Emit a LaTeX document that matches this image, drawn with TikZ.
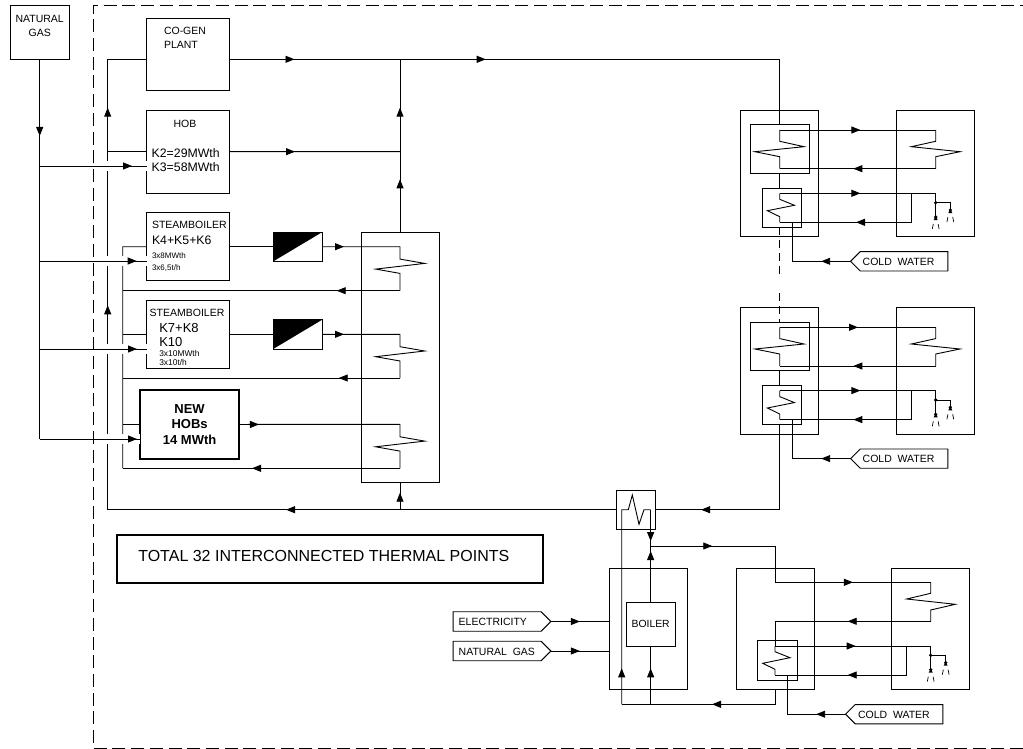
\documentclass[tikz,border=0pt]{standalone}
\usepackage{fontspec}
\setmainfont{Liberation Sans}
\usetikzlibrary{arrows.meta, positioning, calc, shapes.symbols, decorations.markings}

\begin{document}
\begin{tikzpicture}[
    x=1pt, y=-1pt,
    every node/.style={font=\fontsize{10.5}{14}\selectfont},
    box/.style={rectangle, draw, line width=0.9pt, inner sep=0pt, outer sep=0pt},
    lbl/.style={inner sep=0pt, outer sep=0pt, align=left},
    tiny/.style={lbl, font=\fontsize{8}{12}\selectfont},
    med/.style={lbl, font=\fontsize{12.3}{14.6}\selectfont},
    tagw/.style={signal, signal to=west, draw, line width=0.9pt, inner sep=0pt, outer sep=0pt,
                 minimum width=97.3pt, minimum height=19.3pt},
    tage/.style={signal, signal to=east, draw, line width=0.9pt, inner sep=0pt, outer sep=0pt,
                 minimum width=97.7pt, minimum height=19.5pt},
    line/.style={line width=0.9pt},
    flow/.style={postaction={decorate, decoration={markings,
                 mark=at position #1 with {\arrow{Triangle[length=9pt, width=7pt]}}}}},
    gas/.style={line, preaction={draw=white, line width=10pt}},
    pics/nozzle/.style={code={
        \fill (0,0) circle (1.8);
        \fill (-2,3) -- (2,3) -- (0,-1) -- cycle;
        \draw[line width=0.7pt] (-2.4,7) -- (-3.4,12);
        \draw[line width=0.7pt] (2.4,7) -- (3.4,12);
    }}
]
    \useasboundingbox (0,0) rectangle (1023,749);

    % left column
    \node[box, minimum width=82.8pt, minimum height=72.7pt] (cogen) at (188.1,54.35) {};
    \node[box, minimum width=82.8pt, minimum height=82.7pt, below=19.6pt of cogen] (hob) {};
    \node[box, minimum width=82.8pt, minimum height=68pt, below=19.7pt of hob] (steama) {};
    \node[box, minimum width=82.8pt, minimum height=68pt, below=19.6pt of steama] (steamb) {};
    \node[box, line width=2pt, minimum width=99.3pt, minimum height=68.3pt, below=22pt of steamb, xshift=1.5pt,
          align=center, font=\bfseries\fontsize{13}{15.6}\selectfont] (newhob) {NEW\\HOBs\\14 MWth};
    \node[box, minimum width=49pt, minimum height=29.3pt, right=43.8pt of steama] (conva) {};
    \node[box, minimum width=49pt, minimum height=29.3pt, right=43.8pt of steamb] (convb) {};
    \fill (conva.north west) -- (conva.north east) -- (conva.south west) -- cycle;
    \fill (convb.north west) -- (convb.north east) -- (convb.south west) -- cycle;
    \node[box, minimum width=78pt, minimum height=250.7pt] (collector) at (400,357.35) {};
    \node[box, minimum width=58.5pt, minimum height=53.3pt] (ngbox) at (39.7,32.35) {};
    \node[box, line width=2pt, minimum width=426.3pt, minimum height=48.3pt] (total) at (330.15,558.85) {};

    \node[lbl, align=center] (nglbl) at (39.7,26.2) {NATURAL\\GAS};
    \node[lbl, anchor=west] (cogenlbl) at (164,38) {CO-GEN\\PLANT};
    \node[lbl] (hoblbl) at (185,123.7) {HOB};
    \node[med, anchor=west] (hobk) at (151.7,160) {K2=29MWth\\K3=58MWth};
    \node[lbl, anchor=west] (steamalbl) at (152,225) {STEAMBOILER};
    \node[med, anchor=west] (steamak) at (152,240.7) {K4+K5+K6};
    \node[tiny, anchor=west] (steamacap) at (152,262) {3x8MWth\\3x6,5t/h};
    \node[lbl, anchor=west] (steamblbl) at (149.7,313.3) {STEAMBOILER};
    \node[lbl, anchor=west, font=\fontsize{13}{14.4}\selectfont] (steambk) at (159.3,334.9) {K7+K8\\K10};
    \node[tiny, anchor=west, font=\fontsize{8.4}{9.7}\selectfont] (steambcap) at (159.3,358) {3x10MWth\\3x10t/h};
    \node[lbl, anchor=west, font=\fontsize{16}{18}\selectfont] (totallbl) at (138.3,555.7) {TOTAL 32 INTERCONNECTED THERMAL POINTS};

    % natural gas feed
    \coordinate (gasa) at (39.7,166);
    \coordinate (gasb) at (39.7,261);
    \coordinate (gasc) at (39.7,349);
    \coordinate (gasd) at (39.7,439);

    % return header and boiler return
    \coordinate (rettop) at (107.7,59.3);
    \coordinate (retbot) at (107.7,509.7);
    \coordinate (rethob) at (107.7,151.7);
    \coordinate (colbot) at (400,509.7);
    \coordinate (hdrtop) at (122.7,246.7);
    \coordinate (hdrbot) at (122.7,468.3);
    \coordinate (supjoin) at (400,59.3);
    \coordinate (hobjoin) at (400,151.7);

    \draw[line, flow=204.4pt, flow=402pt] (retbot) -- (rettop) -- (cogen.west |- rettop);
    \draw[line] (rethob) -- (hob.west |- rethob);
    \draw[line] (hdrbot) -- (hdrtop) -- (steama.west);
    \draw[line] (hdrtop |- steamb.west) -- (steamb.west);
    \draw[line] (hdrtop |- newhob.west) -- (newhob.west);

    \draw[gas, flow=92.3pt] (gasa) -- (gasa -| hob.west);
    \draw[gas, flow=97pt] (gasb) -- (gasb -| steama.west);
    \draw[gas, flow=97.3pt] (gasc) -- (gasc -| steamb.west);
    \draw[gas, flow=97.3pt] (gasd) -- (gasd -| newhob.west);
    \draw[line, flow=77pt] (ngbox.south) -- (gasd);

    % outlets to collector
    \draw[line] (steama.east) -- (conva.west);
    \draw[line] (steamb.east) -- (convb.west);
    \draw[line, flow=65.5pt] (hob.east) -- (hobjoin);
    \draw[line, flow=52.7pt, flow=124.3pt] (collector.north) -- (supjoin);
    \draw[line, flow=17pt] (colbot) -- (collector.south);

    % collector coils
    \coordinate (cola) at (400,246.7);
    \coordinate (colb) at (400,334.3);
    \coordinate (colc) at (400,424.4);
    \coordinate (colao) at (400,290.7);
    \coordinate (colbo) at (400,378);
    \coordinate (colco) at (400,468.3);
    \draw[line, flow=21.7pt] (conva.east) -- (cola);
    \draw[line, flow=21.7pt] (convb.east) -- (colb);
    \draw[line, flow=19.7pt] (newhob.east) -- (colc);
    \draw[line] (cola) -- ++(0,12.4) -- ++(24.7,4.3) -- ++(-49,5.7) -- ++(24.3,4.3) -- (colao);
    \draw[line] (colb) -- ++(0,12.4) -- ++(24.7,4.3) -- ++(-49,5.7) -- ++(24.3,4.3) -- (colbo);
    \draw[line] (colc) -- ++(0,12.4) -- ++(24.7,4.3) -- ++(-49,5.7) -- ++(24.3,4.3) -- (colco);
    \draw[line, flow=63.3pt] (colao) -- (colao -| hdrtop);
    \draw[line, flow=61.3pt] (colbo) -- (colbo -| hdrtop);
    \draw[line, flow=148pt] (colco) -- (hdrbot);

    % thermal point 1
    \node[box, minimum width=78pt, minimum height=126.4pt] (tanka) at (779.7,173.5) {};
    \node[box, minimum width=78pt, minimum height=126.4pt, right=78pt of tanka] (storea) {};
    \node[box, minimum width=58.7pt, minimum height=48.6pt, below=14.4pt of tanka.north] (hxaa) {};
    \node[box, minimum width=39.4pt, minimum height=39.3pt, below=14.7pt of hxaa, xshift=2.3pt] (hxba) {};
    \node[tagw] (colda) at (904.05,261.3) {};
    \node[lbl, anchor=west] (coldalbl) at (862.7,261.5) {COLD\ \ WATER};
    \coordinate (hota) at (779.7,130);
    \coordinate (hotao) at (779.7,168.7);
    \coordinate (rada) at (935.7,130);
    \coordinate (radao) at (935.7,168.7);
    \coordinate (dhwa) at (779.7,193.3);
    \coordinate (dhwao) at (779.7,222.3);
    \coordinate (supa) at (935.7,193.3);
    \coordinate (bypa) at (911.3,193.3);
    \coordinate (teea) at (935.7,202.7);
    \coordinate (noza) at (935.7,217);
    \coordinate (nozb) at (950.3,210);
    \coordinate (colja) at (792,222.3);
    \draw[line, flow=65pt, flow=256.2pt] (cogen.east |- rettop) -- (hxaa.north |- rettop) -- (hxaa.north);
    \draw[line] (hxaa.south) -- (hxba.north -| hxaa.south);
    \draw[line, flow=80.7pt] (hota) -- (rada);
    \draw[line] (hota) -- ++(0,11.3) -- ++(24.3,5.4) -- ++(-49,5) -- ++(24.7,5) -- (hotao);
    \draw[line] (rada) -- ++(0,11.3) -- ++(-24.4,5.4) -- ++(48.7,5) -- ++(-24.3,5) -- (radao);
    \draw[line, flow=82.4pt] (radao) -- (hotao);
    \draw[line, flow=80.7pt] (dhwa) -- (supa);
    \draw[line] (dhwa) -- ++(0,6) -- ++(14.7,6) -- ++(-27,5.4) -- ++(12.3,6) -- (dhwao);
    \draw[line, flow=84.3pt] (bypa) -- (bypa |- dhwao) -- (dhwao);
    \draw[line] (supa) -- (noza);
    \draw[line] (teea) -| (nozb);
    \fill (teea) circle (1.8);
    \pic at (noza) {nozzle};
    \pic at (nozb) {nozzle};
    \draw[line, flow=29.4pt] (colda.west) -- (colja |- colda.west) -- (colja);

    % thermal point 2
    \node[box, minimum width=78pt, minimum height=126.4pt] (tankb) at (779.7,370.8) {};
    \node[box, minimum width=78pt, minimum height=126.4pt, right=78pt of tankb] (storeb) {};
    \node[box, minimum width=58.7pt, minimum height=48.6pt, below=14.4pt of tankb.north] (hxab) {};
    \node[box, minimum width=39.4pt, minimum height=39.3pt, below=14.7pt of hxab, xshift=2.3pt] (hxbb) {};
    \node[tagw] (coldb) at (904.05,458.6) {};
    \node[lbl, anchor=west] (coldblbl) at (862.7,458.8) {COLD\ \ WATER};
    \coordinate (hotb) at (779.7,327.3);
    \coordinate (hotbo) at (779.7,366);
    \coordinate (radb) at (935.7,327.3);
    \coordinate (radbo) at (935.7,366);
    \coordinate (dhwb) at (779.7,390.6);
    \coordinate (dhwbo) at (779.7,419.6);
    \coordinate (supb) at (935.7,390.6);
    \coordinate (bypb) at (911.3,390.6);
    \coordinate (teeb) at (935.7,400);
    \coordinate (nozc) at (935.7,414.3);
    \coordinate (nozd) at (950.3,407.3);
    \coordinate (coljb) at (792,419.6);
    \coordinate (dashu) at (779.7,275);
    \coordinate (dashl) at (779.7,293);
    \coordinate (retb) at (779.7,509.7);
    \draw[line, dash pattern=on 8pt off 5pt] (hxba.south -| hxaa.south) -- (dashu);
    \draw[line, dash pattern=on 8pt off 5pt] (dashl) -- (hxab.north);
    \draw[line] (hxab.south) -- (hxbb.north -| hxab.south);
    \draw[line, flow=78.3pt] (hotb) -- (radb);
    \draw[line] (hotb) -- ++(0,11.3) -- ++(24.3,5.4) -- ++(-49,5) -- ++(24.7,5) -- (hotbo);
    \draw[line] (radb) -- ++(0,11.3) -- ++(-24.4,5.4) -- ++(48.7,5) -- ++(-24.3,5) -- (radbo);
    \draw[line, flow=82.4pt] (radbo) -- (hotbo);
    \draw[line, flow=80.7pt] (dhwb) -- (supb);
    \draw[line] (dhwb) -- ++(0,6) -- ++(14.7,6) -- ++(-27,5.4) -- ++(12.3,6) -- (dhwbo);
    \draw[line, flow=87pt] (bypb) -- (bypb |- dhwbo) -- (dhwbo);
    \draw[line] (supb) -- (nozc);
    \draw[line] (teeb) -| (nozd);
    \fill (teeb) circle (1.8);
    \pic at (nozc) {nozzle};
    \pic at (nozd) {nozzle};
    \draw[line, flow=29.4pt] (coldb.west) -- (coljb |- coldb.west) -- (coljb);

    % peak heat exchanger and boiler
    \node[box, minimum width=39pt, minimum height=39.3pt] (hxpeak) at (636.2,509.65) {};
    \node[box, minimum width=78pt, minimum height=121.4pt] (boilerbox) at (648.3,629) {};
    \node[box, minimum width=49.3pt, minimum height=44pt, font=\fontsize{10.4}{12}\selectfont] (boiler) at (650.65,624) {BOILER};
    \node[tage] (elec) at (497.15,621.5) {};
    \node[lbl, anchor=west] (eleclbl) at (458.7,622) {ELECTRICITY};
    \node[tage, below=10pt of elec] (ngin) {};
    \node[lbl, anchor=west] (nginlbl) at (458.7,651.5) {NATURAL\ \ GAS};
    \coordinate (pkl) at (621.7,704.3);
    \coordinate (pkr) at (650.65,509.7);
    \coordinate (supt) at (650.65,546);
    \coordinate (bot) at (650.65,704.3);
    \coordinate (thcold) at (775,704.3);
    \coordinate (thsup) at (775,546);
    \draw[line, flow=330.7pt] (hxpeak.west |- retbot) -- (retbot);
    \draw[line, flow=163.7pt] (hxbb.south -| hxab.south) -- (retb) -- (hxpeak.east |- retb);
    \draw[line, flow=36pt] (pkl) -- (pkl |- pkr) -- ++(6.6,0) -- ++(4,-14.7) -- ++(6.7,29.3) -- ++(5,-14.6) -- (pkr);
    \draw[line, flow=31.4pt] (pkr) -- (supt);
    \draw[line, flow=51pt] (boiler.north) -- (supt);
    \draw[line, flow=36pt] (bot) -- (boiler.south);
    \draw[line, flow=29pt] (elec.east) -- (elec.east -| boilerbox.west);
    \draw[line, flow=29pt] (ngin.east) -- (ngin.east -| boilerbox.west);

    % thermal point 3
    \node[box, minimum width=78pt, minimum height=121.7pt] (tankc) at (775,628.85) {};
    \node[box, minimum width=78pt, minimum height=121.7pt, right=77.7pt of tankc] (storec) {};
    \node[box, minimum width=39.3pt, minimum height=39.6pt] (hxbc) at (777.35,660.5) {};
    \node[tagw] (coldc) at (899.05,714.2) {};
    \node[lbl, anchor=west] (coldclbl) at (858,714.4) {COLD\ \ WATER};
    \coordinate (radc) at (930.7,582.3);
    \coordinate (radco) at (930.7,621.3);
    \coordinate (dhwc) at (775,646);
    \coordinate (dhwco) at (775,675);
    \coordinate (supc) at (930.7,646);
    \coordinate (bypc) at (906.7,646);
    \coordinate (teec) at (930.7,655.3);
    \coordinate (noze) at (930.7,669.6);
    \coordinate (nozf) at (945.7,662.7);
    \coordinate (coljc) at (787.3,675);
    \draw[line, flow=77.6pt] (tankc.south) -- (thcold) -- (pkl);
    \draw[line, flow=61.6pt, flow=238.6pt] (supt) -- (thsup) -- (thsup |- radc) -- (radc);
    \draw[line] (radc) -- ++(0,11) -- ++(-24,5.7) -- ++(48.6,5.3) -- ++(-24.6,5.7) -- (radco);
    \draw[line, flow=83pt] (radco) -- (radco -| dhwc) -- (dhwc);
    \draw[line, flow=80.7pt] (dhwc) -- (supc);
    \draw[line] (dhwc) -- ++(0,5.7) -- ++(15,6) -- ++(-27.3,5.6) -- ++(12.3,6) -- (dhwco);
    \draw[line, flow=88pt] (bypc) -- (bypc |- dhwco) -- (dhwco);
    \draw[line] (supc) -- (noze);
    \draw[line] (teec) -| (nozf);
    \fill (teec) circle (1.8);
    \pic at (noze) {nozzle};
    \pic at (nozf) {nozzle};
    \draw[line, flow=29.4pt] (coldc.west) -- (coljc |- coldc.west) -- (coljc);

    % dashed limit
    \coordinate (frmtr) at (1023,5.7);
    \coordinate (frmtl) at (93,5.7);
    \coordinate (frmbl) at (93,748);
    \coordinate (frmbr) at (1023,748);
    \draw[line width=1pt, dash pattern=on 13pt off 5.7pt] (frmbr) -- (frmbl) -- (frmtl) -- (frmtr);
\end{tikzpicture}
\end{document}
